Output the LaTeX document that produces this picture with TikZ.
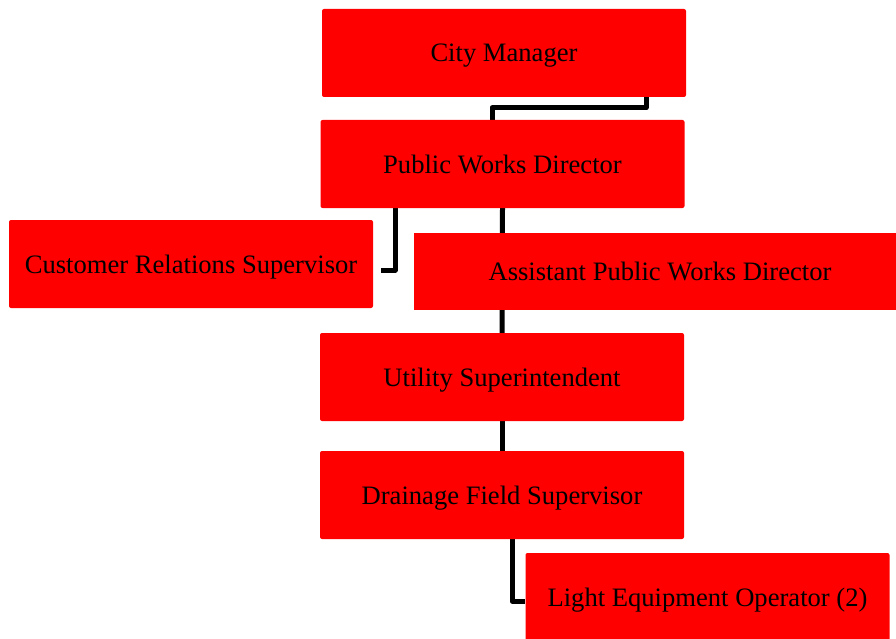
\documentclass[tikz,border=0pt]{standalone}
\usepackage{fontspec}
\setmainfont{Liberation Serif}
\usetikzlibrary{backgrounds}

\tikzset{
  post/.style={fill=red, rounded corners=2pt, inner sep=0pt,
    minimum width=364pt, minimum height=88pt, text depth=0pt,
    font=\fontsize{26.6}{32}\selectfont},
  link/.style={line width=5pt, line join=round}
}

\begin{document}
\begin{tikzpicture}[x=1pt,y=-1pt]
\path[use as bounding box, clip] (0,0) rectangle (896,639);

% the posts
\node[post] (cm) at (504,53) {City Manager};
\node[post] (pwd) at (502.5,164) {Public Works Director};
\node[post] (crs) at (191,264) {Customer Relations Supervisor};
\node[post, sharp corners, minimum width=492pt, minimum height=77pt] (apwd) at (660,271.5) {Assistant Public Works Director};
\node[post] (us) at (502,377) {Utility Superintendent};
\node[post] (dfs) at (502,495) {Drainage Field Supervisor};
\node[post] (leo) at (707.5,597) {Light Equipment Operator (2)};

% who reports to whom
\begin{scope}[on background layer]
\draw[link] ([xshift=142pt]cm.south) |- ([xshift=-10.5pt,yshift=12pt]pwd.north) -- ([xshift=-10.5pt]pwd.north);
\draw[link] ([xshift=-107.5pt]pwd.south) |- ([xshift=8pt,yshift=-6pt]crs.east);
\draw[link] (pwd.south) -- (us.north);
\draw[link] (us.south) -- (dfs.north);
\draw[link] ([xshift=10pt]dfs.south) |- ([yshift=-4pt]leo.west);
\end{scope}
\end{tikzpicture}
\end{document}
